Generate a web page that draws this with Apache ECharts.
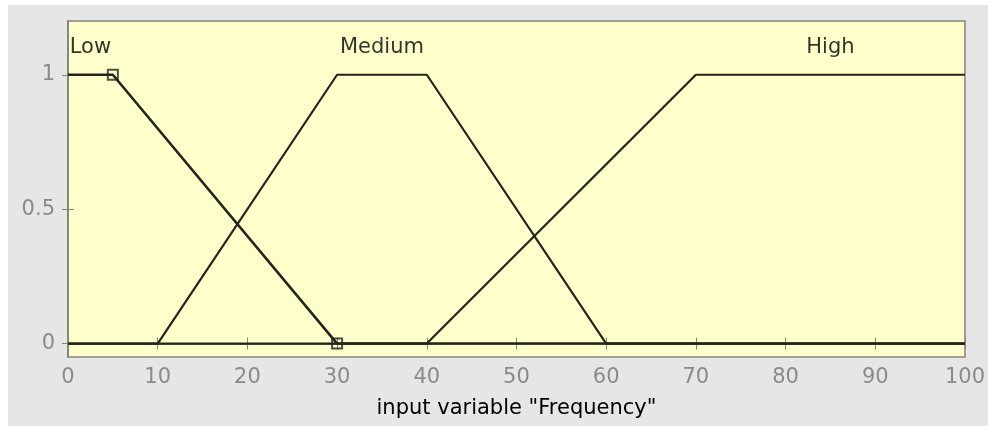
<!DOCTYPE html>
<html>
<head>
<meta charset="utf-8">
<script src="https://cdn.jsdelivr.net/npm/echarts@6/dist/echarts.min.js"></script>
<style>
html,body{margin:0;padding:0;background:#ffffff;width:988px;height:427px;overflow:hidden;}
#c{position:absolute;left:8px;top:5px;width:980px;height:421px;}
</style>
</head>
<body>
<div id="c"></div>
<script>
// Membership functions of input variable "Frequency"
const lowX = [0, 5, 30, 100];
const lowY = [1, 1, 0, 0];
const medX = [0, 10, 30, 40, 60, 100];
const medY = [0, 0, 1, 1, 0, 0];
const highX = [0, 40, 70, 100];
const highY = [0, 0, 1, 1];
// selected-MF markers (Low)
const markX = [5, 30];
const markY = [1, 0];
// MF names and their label positions
const mfNames = ['Low', 'Medium', 'High'];
const mfLabelX = [2.5, 35, 85];
const mfLabelY = [1.1, 1.1, 1.1];
// ticks
const xTicks = [0, 10, 20, 30, 40, 50, 60, 70, 80, 90, 100];
const yTicks = [0, 0.5, 1];
const xTitle = 'input variable "Frequency"';

const zip = (xs, ys) => xs.map((x, i) => [x, ys[i]]);
const lineCol = '#24241a';
const axisCol = '#85857a';
const labelCol = '#8a8a8a';
const font = 'DejaVu Sans';

const chart = echarts.init(document.getElementById('c'));
chart.setOption({
  backgroundColor: '#e6e6e6',
  animation: false,
  grid: {left: 60, top: 16, width: 900, height: 336, show: true,
         backgroundColor: '#ffffcc', borderColor: axisCol, borderWidth: 1.5},
  xAxis: [{
    type: 'value', min: 0, max: 100, interval: 10, position: 'bottom',
    axisLine: {show: true, lineStyle: {color: axisCol, width: 1.5}},
    axisTick: {show: true, inside: true, length: 6, lineStyle: {color: axisCol}},
    axisLabel: {color: labelCol, fontSize: 21, fontFamily: font, margin: 10,
                formatter: v => xTicks.includes(v) ? String(v) : ''},
    splitLine: {show: false},
    name: xTitle, nameLocation: 'middle', nameGap: 41,
    nameTextStyle: {color: '#000', fontSize: 21, fontFamily: font}
  }, {
    type: 'value', min: 0, max: 100, interval: 10, position: 'top',
    axisLine: {show: true, lineStyle: {color: axisCol, width: 1.5}},
    axisTick: {show: true, inside: true, length: 6, lineStyle: {color: axisCol}},
    axisLabel: {show: false}, splitLine: {show: false}
  }],
  yAxis: [{
    type: 'value', min: -0.05, max: 1.2, position: 'left',
    axisLine: {show: true, lineStyle: {color: axisCol, width: 1.5}},
    axisTick: {show: true, inside: true, length: 6, customValues: yTicks, lineStyle: {color: axisCol}},
    axisLabel: {color: labelCol, fontSize: 21, fontFamily: font, margin: 13, customValues: yTicks},
    splitLine: {show: false}
  }, {
    type: 'value', min: -0.05, max: 1.2, position: 'right',
    axisLine: {show: true, lineStyle: {color: axisCol, width: 1.5}},
    axisTick: {show: true, inside: true, length: 6, customValues: yTicks, lineStyle: {color: axisCol}},
    axisLabel: {show: false}, splitLine: {show: false}
  }],
  series: [
    {type: 'line', data: zip(medX, medY), symbol: 'none', lineStyle: {color: lineCol, width: 2.2}},
    {type: 'line', data: zip(highX, highY), symbol: 'none', lineStyle: {color: lineCol, width: 2.2}},
    {type: 'line', data: zip(lowX, lowY), symbol: 'none', lineStyle: {color: lineCol, width: 2.6}},
    {type: 'scatter', data: zip(markX, markY), symbol: 'rect', symbolSize: 10,
     itemStyle: {color: 'rgba(0,0,0,0)', borderColor: lineCol, borderWidth: 2}},
    {type: 'scatter', data: mfNames.map((n, i) => ({value: [mfLabelX[i], mfLabelY[i]], name: n})),
     symbolSize: 0,
     label: {show: true, position: 'inside', formatter: p => p.name,
             color: '#000', fontSize: 21, fontFamily: font}}
  ]
});
</script>
</body>
</html>
